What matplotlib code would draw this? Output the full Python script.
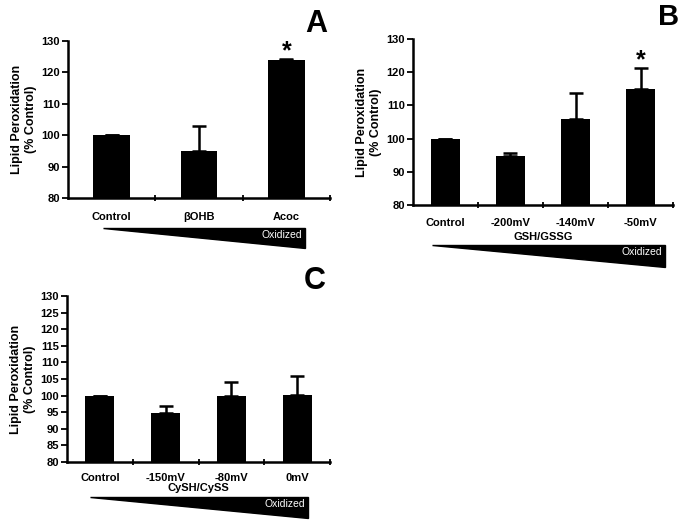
import matplotlib.pyplot as plt
from matplotlib.patches import Polygon

# panel A
a_labels = ["Control", "βOHB", "Acoc"]
a_values = [100, 95, 124]
a_errors = [0, 8, 0.2]

# panel B
b_labels = ["Control", "-200mV", "-140mV", "-50mV"]
b_values = [100, 94.8, 106, 115]
b_errors = [0, 0.8, 7.7, 6.2]

# panel C
c_labels = ["Control", "-150mV", "-80mV", "0mV"]
c_values = [100, 94.7, 100, 100.2]
c_errors = [0, 2.3, 4, 5.6]

W, H = 685, 523
fig = plt.figure(figsize=(W / 100, H / 100), dpi=100)
plt.rcParams['font.family'] = ['Liberation Sans', 'DejaVu Sans']


def px_axes(x0, y0, x1, y1):
    return fig.add_axes([x0 / W, 1 - y1 / H, (x1 - x0) / W, (y1 - y0) / H])


def panel(ax, labels, values, errors, yticks, width, xlabel=None, xlabel_y=-0.19,
          pad=10, star=None):
    n = len(labels)
    x = list(range(n))
    ax.bar(x, values, width=width, color="black", zorder=2)
    ax.errorbar(x, values, yerr=[[0] * n, errors], fmt="none", ecolor="black",
                elinewidth=1.8, capsize=5, capthick=1.8, zorder=3)
    ax.set_xlim(-0.5, n - 0.5)
    ax.set_ylim(80, 130)
    ax.set_yticks(yticks)
    ax.set_yticklabels([str(t) for t in yticks], fontsize=8, fontweight="bold")
    ax.set_xticks([i + 0.5 for i in range(n)])
    ax.set_xticklabels([])
    ax.set_xticks(x, minor=True)
    ax.set_xticklabels(labels, minor=True, fontsize=8, fontweight="bold")
    ax.tick_params(axis="x", which="major", direction="inout", length=5, width=1.3)
    ax.tick_params(axis="x", which="minor", length=0, pad=pad)
    ax.tick_params(axis="y", direction="out", length=4, width=1.3, pad=2)
    for s in ["top", "right"]:
        ax.spines[s].set_visible(False)
    for s in ["left", "bottom"]:
        ax.spines[s].set_linewidth(1.8)
    ax.set_ylabel("Lipid Peroxidation\n(% Control)", fontsize=9, fontweight="bold",
                  labelpad=3)
    if xlabel:
        ax.text(0.5, xlabel_y, xlabel, transform=ax.transAxes, ha="center", va="center",
                fontsize=8, fontweight="bold")
    if star is not None:
        ax.text(star, values[star] + errors[star] + 2.5, "*", ha="center", va="center",
                fontsize=18, fontweight="bold")


def wedge(x0, x1, ytop, ybot):
    pts = [(x0 / W, 1 - ytop / H), (x1 / W, 1 - ytop / H), (x1 / W, 1 - ybot / H)]
    fig.patches.append(Polygon(pts, closed=True, color="black", transform=fig.transFigure))
    fig.text((x1 - 3) / W, 1 - (ytop + 7) / H, "Oxidized", color="white", fontsize=7.5,
             ha="right", va="center")


axA = px_axes(68, 41, 330, 198)
panel(axA, a_labels, a_values, a_errors, list(range(80, 131, 10)), 0.42, star=2)
axB = px_axes(413, 39, 673, 205)
panel(axB, b_labels, b_values, b_errors, list(range(80, 131, 10)), 0.45,
      xlabel="GSH/GSSG", xlabel_y=-0.193, pad=9, star=3)
axC = px_axes(67, 296, 330, 462)
panel(axC, c_labels, c_values, c_errors, list(range(80, 131, 5)), 0.44,
      xlabel="CySH/CySS", xlabel_y=-0.157, pad=8)

wedge(103, 305, 228, 248)
wedge(432, 665, 245, 267)
wedge(90, 308, 497, 518)

fig.text(316 / W, 1 - 24 / H, "A", fontsize=22, fontweight="bold", ha="center", va="center")
fig.text(669 / W, 1 - 3 / H, "B", fontsize=21, fontweight="bold", ha="center", va="top")
fig.text(315 / W, 1 - 281 / H, "C", fontsize=22, fontweight="bold", ha="center", va="center")

fig.savefig("out.png", dpi=100)
